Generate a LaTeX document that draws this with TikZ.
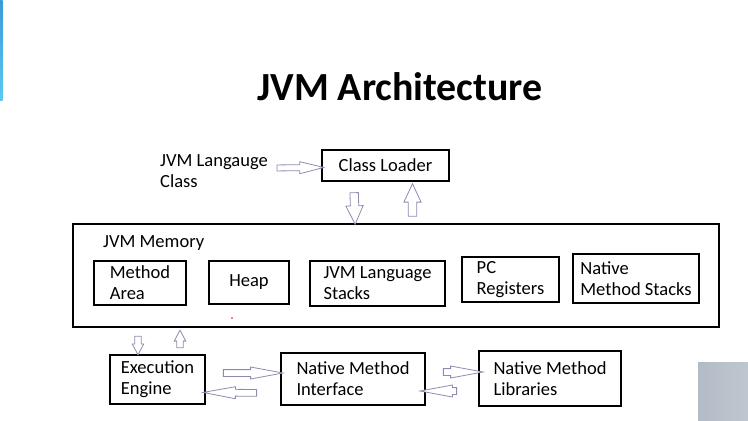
\documentclass[tikz,border=0pt]{standalone}
\usepackage{fontspec}
\setmainfont{Carlito}
\usetikzlibrary{calc,shapes.arrows}

\definecolor{arrowline}{HTML}{8C8CB0}
\definecolor{slidebar}{HTML}{3A9AD9}
\definecolor{slidebarlow}{HTML}{5CC8F2}
\definecolor{cornerbox}{HTML}{B3BCC6}

% hollow block arrow between two points
\newcommand{\hollowarrow}[3][]{%
    \path let \p1=#2, \p2=#3,
        \n1={veclen(\x2-\x1,\y2-\y1)}, \n2={atan2(\y2-\y1,\x2-\x1)} in
        node[hollow, #1, minimum height=\n1, rotate=\n2] at ($(\p1)!0.5!(\p2)$) {};%
}

\begin{document}
\begin{tikzpicture}[
    x=1bp, y=-1bp,
    box/.style={
        rectangle,
        draw=black,
        line width=2.4bp,
        inner sep=0pt,
        font=\fontsize{18.6}{21}\selectfont,
        align=left
    },
    plain/.style={
        font=\fontsize{18.6}{21}\selectfont,
        align=left,
        inner sep=0pt
    },
    hollow/.style={
        single arrow,
        draw=arrowline,
        fill=white,
        line width=0.8bp,
        inner sep=3bp,
        single arrow head extend=2.6bp,
        single arrow tip angle=21,
        single arrow head indent=0pt
    },
    widearrow/.style={
        inner sep=3.8bp,
        single arrow head extend=4.4bp,
        single arrow tip angle=50
    },
    smallarrow/.style={
        inner sep=2.8bp,
        single arrow head extend=2.6bp,
        single arrow tip angle=56
    },
    toparrow/.style={
        inner sep=2.6bp,
        single arrow head extend=3bp,
        single arrow tip angle=28
    }
]
    \useasboundingbox (0,0) rectangle (748,420);

    % slide decoration
    \shade[top color=slidebar, bottom color=slidebarlow] (0,0) rectangle (2.5,100);
    \shade[left color=cornerbox, right color=cornerbox!85!white] (698,362) rectangle (748,420);

    % title
    \node[anchor=base, inner sep=0pt, font=\fontsize{40}{44}\selectfont\bfseries] (title) at (400,100) {JVM Architecture};

    % top: class loader
    \node[plain, anchor=west] (lang) at (160,171) {JVM Langauge\\Class};
    \node[box, minimum width=127bp, minimum height=31bp] (loader) at (385.5,165.5) {Class Loader};

    % memory area
    \node[box, minimum width=646bp, minimum height=103bp] (memory) at (396,275.5) {};
    \node[plain, anchor=west] (memlabel) at (103,243) {JVM Memory};
    \node[box, minimum width=92bp, minimum height=44bp] (method) at (140,283) {Method\\Area};
    \node[box, minimum width=80bp, minimum height=43bp] (heap) at (249,282.5) {Heap};
    \node[box, minimum width=135bp, minimum height=45bp] (stacks) at (377.5,283.5) {JVM Language\\Stacks};
    \node[box, minimum width=97bp, minimum height=45bp] (pc) at (510.5,279.5) {PC\\Registers};
    \node[box, minimum width=126bp, minimum height=49bp] (native) at (636,278.5) {Native\\Method Stacks};
    \fill[red] (232,318) circle (0.8);

    % bottom row
    \node[box, minimum width=95bp, minimum height=49bp] (engine) at (157.5,379.5) {Execution\\Engine};
    \node[box, minimum width=144bp, minimum height=52bp] (nmi) at (353,379) {Native Method\\Interface};
    \node[box, minimum width=142bp, minimum height=55bp] (nml) at (550,378.5) {Native Method\\Libraries};

    % arrows
    \hollowarrow[toparrow]{($(lang.east)+(3,-3)$)}{($(loader.west)+(-3,2)$)}
    \hollowarrow[widearrow]{($(loader.south)+(-31.5,6)$)}{($(memory.north)+(-41,-3)$)}
    \hollowarrow[widearrow]{($(memory.north)+(16.5,-2)$)}{($(loader.south)+(27,6)$)}
    \hollowarrow[smallarrow]{($(memory.south)+(-258,5)$)}{($(engine.north)+(-19.5,-2)$)}
    \hollowarrow[smallarrow]{($(engine.north)+(22.5,-3)$)}{($(memory.south)+(-216,5)$)}
    \hollowarrow{($(engine.east)+(8,-6.5)$)}{($(nmi.west)+(-6,-6)$)}
    \hollowarrow{($(nmi.west)+(-14,14)$)}{($(engine.east)+(6,13)$)}
    \hollowarrow{($(nmi.east)+(8,-7)$)}{($(nml.west)+(-4,-6.5)$)}
    \hollowarrow{($(nml.west)+(-12,12.5)$)}{($(nmi.east)+(3,12)$)}

\end{tikzpicture}
\end{document}
